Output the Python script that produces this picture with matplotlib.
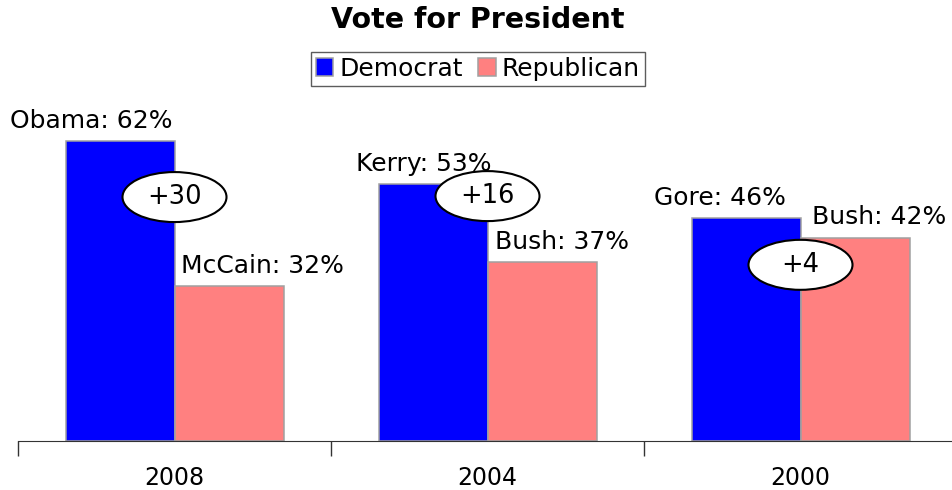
import matplotlib

matplotlib.use("Agg")
import matplotlib.pyplot as plt  # noqa: E402
from matplotlib.patches import Ellipse  # noqa: E402

years = ["2008", "2004", "2000"]
dem_names = ["Obama", "Kerry", "Gore"]
rep_names = ["McCain", "Bush", "Bush"]
dem_pct = [62, 53, 46]
rep_pct = [32, 37, 42]
margins = ["+30", "+16", "+4"]

DEM = "#0000ff"
REP = "#ff8080"
EDGE = "#a0a0a0"

plt.rcParams["font.family"] = ["DejaVu Sans"]

W, H = 952, 490
fig = plt.figure(figsize=(W / 100, H / 100), dpi=100)
px_group = 313.0
ax = fig.add_axes([18 / W, 49 / H, (W - 18) / W, (441 - 102) / H])
ax.set_xlim(-0.5, -0.5 + (W - 18) / px_group)
ax.set_ylim(0, 339 / 4.84)

bw = 109 / px_group
x = list(range(len(years)))
ax.bar([i - bw / 2 for i in x], dem_pct, bw, color=DEM, edgecolor=EDGE,
       lw=1.1, label="Democrat")
ax.bar([i + bw / 2 for i in x], rep_pct, bw, color=REP, edgecolor=EDGE,
       lw=1.1, label="Republican")

# value labels, nudged sideways like the original
dem_nudge = [-29, -9, -26]
rep_nudge = [33, 20, 24]
for i in x:
    ax.annotate(f"{dem_names[i]}: {dem_pct[i]}%", (i - bw / 2, dem_pct[i]),
                xytext=(dem_nudge[i] * 0.72, 6), textcoords="offset points",
                ha="center", va="bottom", fontsize=18)
    ax.annotate(f"{rep_names[i]}: {rep_pct[i]}%", (i + bw / 2, rep_pct[i]),
                xytext=(rep_nudge[i] * 0.72, 6), textcoords="offset points",
                ha="center", va="bottom", fontsize=18)

# margin bubbles
bubble_y = [50.4, 50.6, 36.4]
for i in x:
    ax.add_patch(Ellipse((i, bubble_y[i]), 104 / px_group, 50 / 4.84,
                         facecolor="white", edgecolor="black", lw=1.5, zorder=3))
    ax.text(i, bubble_y[i], margins[i], ha="center", va="center",
            fontsize=18.5, zorder=4)

for s in ["left", "top", "right"]:
    ax.spines[s].set_visible(False)
ax.spines["bottom"].set_color("#333333")
ax.set_yticks([])
ax.set_xticks([i - 0.5 for i in x])
ax.set_xticklabels([])
ax.tick_params(axis="x", which="major", length=11, color="#333333", width=1)
ax.set_xticks(x, minor=True)
ax.set_xticklabels(years, minor=True, fontsize=17)
ax.tick_params(axis="x", which="minor", length=0, pad=18)

fig.text(478 / W, 1 - 20 / H, "Vote for President", ha="center", va="center",
         fontsize=20.5, fontweight="bold")
fig.legend(loc="center", bbox_to_anchor=(478 / W, 1 - 69 / H), ncol=2,
           fontsize=18, frameon=True, fancybox=False, edgecolor="#333333",
           handlelength=0.7, handleheight=0.7, handletextpad=0.25,
           columnspacing=0.6, borderpad=0.2, borderaxespad=0)

fig.savefig("out.png", dpi=100)
